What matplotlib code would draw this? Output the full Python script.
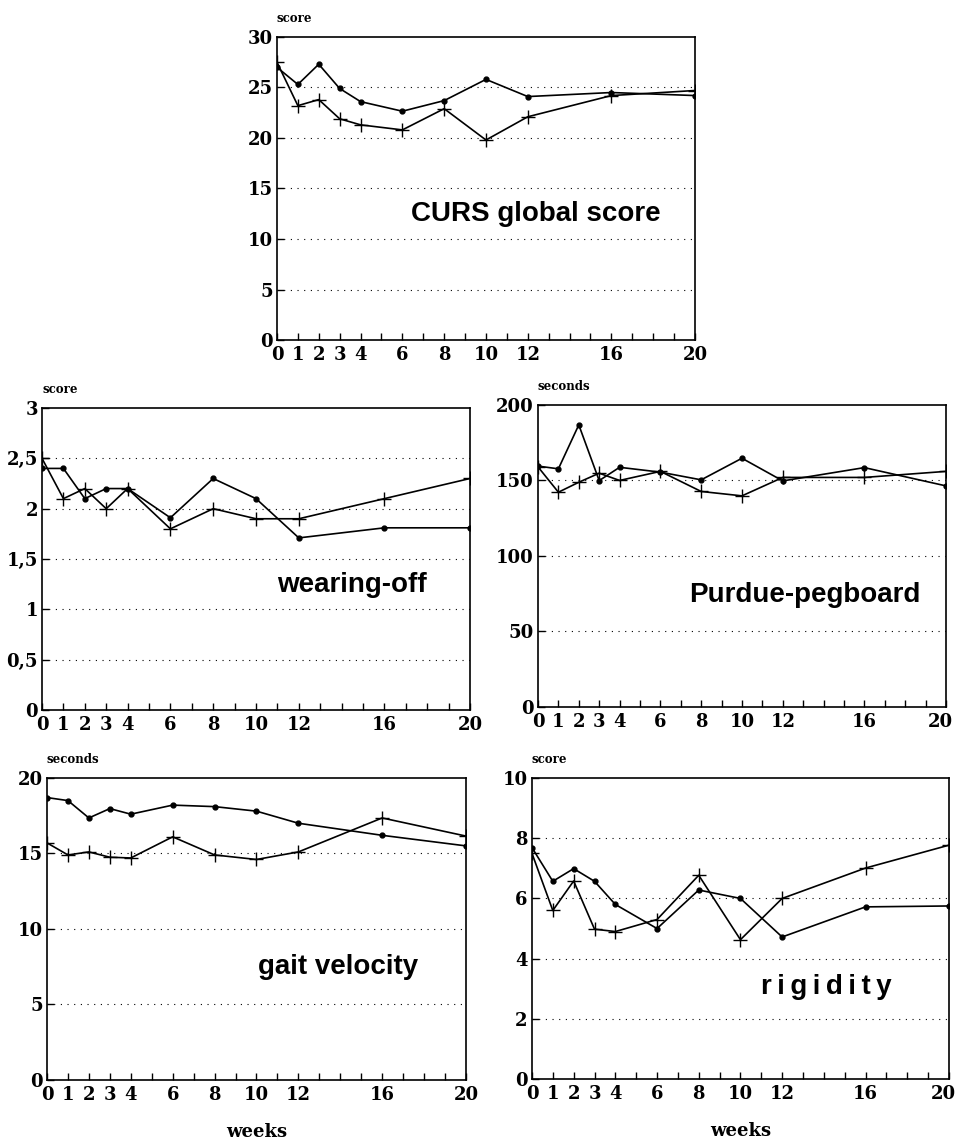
import numpy as np
import matplotlib.pyplot as plt
from matplotlib.ticker import MultipleLocator
from matplotlib.transforms import ScaledTranslation

weeks = [0, 1, 2, 3, 4, 6, 8, 10, 12, 16, 20]

curs_dot = [27.0, 25.3, 27.3, 24.9, 23.6, 22.65, 23.7, 25.8, 24.1, 24.5, 24.2]
curs_plus = [27.5, 23.2, 23.8, 21.9, 21.3, 20.8, 22.9, 19.8, 22.1, 24.2, 24.7]

wear_dot = [2.4, 2.4, 2.1, 2.2, 2.2, 1.91, 2.3, 2.1, 1.71, 1.81, 1.81]
wear_plus = [2.5, 2.1, 2.2, 2.0, 2.2, 1.8, 2.0, 1.9, 1.9, 2.1, 2.3]

purdue_dot = [159.5, 157.7, 186.8, 149.9, 158.7, 155.5, 150.4, 164.7, 149.7, 158.5, 146.4]
purdue_plus = [159, 142.2, 148.8, 154.8, 150, 156, 142.7, 139.8, 152, 152, 156]

gait_dot = [18.7, 18.5, 17.35, 17.97, 17.6, 18.2, 18.1, 17.8, 17.0, 16.2, 15.5]
gait_plus = [15.7, 14.9, 15.1, 14.75, 14.7, 16.1, 14.9, 14.6, 15.1, 17.35, 16.15]

rig_dot = [7.69, 6.57, 6.99, 6.57, 5.8, 5.0, 6.28, 6.0, 4.72, 5.72, 5.75]
rig_plus = [7.5, 5.6, 6.58, 4.98, 4.9, 5.3, 6.77, 4.63, 6.0, 7.01, 7.77]

serif = 'DejaVu Serif'
sans = ['Liberation Sans', 'DejaVu Sans']

fig = plt.figure(figsize=(9.59, 11.41), dpi=100)


def panel(rect, dots, plus, ymax, ystep, yunit, title, tx, ty, ylabels=None, xlabel=False, spacing=False):
    ax = fig.add_axes(rect)
    ax.plot(weeks, dots, color='black', lw=1.2, marker='o', ms=3.5, zorder=3)
    ax.plot(weeks, plus, color='black', lw=1.2, marker='+', ms=10, mew=1.0, zorder=3)
    ax.set_xlim(0, 20)
    ax.set_ylim(0, ymax)
    ax.set_xticks(weeks)
    ax.xaxis.set_minor_locator(MultipleLocator(1))
    yt = np.arange(0, ymax + ystep / 2, ystep)
    ax.set_yticks(yt)
    if ylabels is not None:
        ax.set_yticklabels(ylabels)
    for y in yt[1:-1]:
        ax.axhline(y, color='black', lw=0.8, ls=(0, (1, 5)), zorder=1)
    ax.tick_params(axis='both', which='both', direction='in', length=5, width=1)
    ax.tick_params(axis='x', which='major', pad=4)
    ax.tick_params(axis='y', which='major', pad=3)
    for lab in ax.get_xticklabels() + ax.get_yticklabels():
        lab.set_fontfamily(serif)
        lab.set_fontweight('bold')
        lab.set_fontsize(13)
    for s in ax.spines.values():
        s.set_linewidth(1.2)
    ax.text(0, 1.04, yunit, transform=ax.transAxes, ha='left', va='bottom',
            fontfamily=serif, fontweight='bold', fontsize=8.5)
    txt = '\u2009'.join(title) if spacing else title
    ax.text(tx, ty, txt, ha='center', va='center', fontfamily=sans,
            fontweight='bold', fontsize=20)
    if xlabel:
        ax.set_xlabel('weeks', fontfamily=serif, fontweight='bold', fontsize=13, labelpad=14)
    return ax


panel([0.2888, 0.702, 0.4359, 0.2656], curs_dot, curs_plus, 30, 5, 'score',
      'CURS global score', 12.4, 12.5)
panel([0.0438, 0.3777, 0.4463, 0.2647], wear_dot, wear_plus, 3, 0.5, 'score',
      'wearing-off', 14.5, 1.24, ylabels=['0', '0,5', '1', '1,5', '2', '2,5', '3'])
ax3 = panel([0.561, 0.3804, 0.4254, 0.2647], purdue_dot, purdue_plus, 200, 50, 'seconds',
            'Purdue-pegboard', 13.1, 74)
panel([0.049, 0.0535, 0.4369, 0.2647], gait_dot, gait_plus, 20, 5, 'seconds',
      'gait velocity', 13.9, 7.5, xlabel=True)
ax5 = panel([0.5547, 0.0543, 0.4348, 0.2638], rig_dot, rig_plus, 10, 2, 'score',
            'rigidity', 14.1, 3.06, xlabel=True, spacing=True)

# keep the last "20" inside the page on the right-hand panels
for ax in (ax3, ax5):
    last = ax.get_xticklabels()[-1]
    last.set_transform(last.get_transform() + ScaledTranslation(-4 / 72, 0, fig.dpi_scale_trans))

fig.savefig('out.png', dpi=100)
